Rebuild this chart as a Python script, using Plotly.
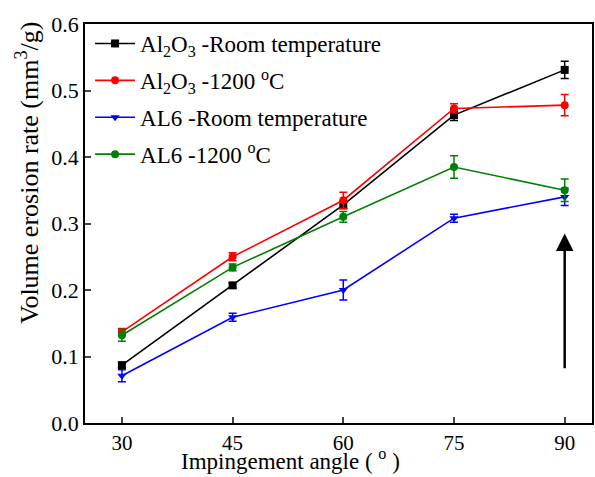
import plotly.graph_objects as go

angles = [30, 45, 60, 75, 90]
al2o3_rt = [0.087, 0.207, 0.328, 0.463, 0.531]
al2o3_rt_err = [0.004, 0.004, 0.006, 0.008, 0.013]
al2o3_1200 = [0.137, 0.250, 0.335, 0.473, 0.478]
al2o3_1200_err = [0.005, 0.006, 0.012, 0.007, 0.016]
al6_rt = [0.071, 0.159, 0.200, 0.308, 0.340]
al6_rt_err = [0.009, 0.006, 0.015, 0.006, 0.013]
al6_1200 = [0.132, 0.234, 0.310, 0.385, 0.350]
al6_1200_err = [0.009, 0.005, 0.008, 0.017, 0.017]

names = ["Al<sub>2</sub>O<sub>3</sub> -Room temperature",
         "Al<sub>2</sub>O<sub>3</sub> -1200 <sup>o</sup>C",
         "AL6 -Room temperature",
         "AL6 -1200 <sup>o</sup>C"]
series = [al2o3_rt, al2o3_1200, al6_rt, al6_1200]
errs = [al2o3_rt_err, al2o3_1200_err, al6_rt_err, al6_1200_err]
colors = ["#000000", "#ff0000", "#0000ff", "#008000"]
symbols = ["square", "circle", "triangle-down", "circle"]

arrow_x = 90
arrow_tail = 0.08
arrow_head = 0.285

fig = go.Figure()
for i, (n, s, e, c, sym) in enumerate(zip(names, series, errs, colors, symbols)):
    fig.add_trace(go.Scatter(
        x=angles, y=s, name=n, mode="lines+markers", legendgroup=f"g{i}",
        line=dict(color=c, width=1.6),
        marker=dict(symbol=sym, size=8, color=c),
        error_y=dict(type="data", array=e, visible=True, color=c, thickness=1.5, width=4),
    ))

fig.add_annotation(x=arrow_x, y=arrow_head, ax=arrow_x, ay=arrow_tail,
                   xref="x", yref="y", axref="x", ayref="y",
                   showarrow=True, arrowhead=2, arrowsize=1.4, arrowwidth=2.5,
                   arrowcolor="black", text="")

font = "Liberation Serif, Times New Roman, serif"
fig.add_annotation(x=0.405, y=-0.133, xref="paper", yref="paper",
                   xanchor="center", yanchor="bottom",
                   text="Impingement angle ( <sup>o</sup> )", showarrow=False,
                   font=dict(family=font, size=23, color="black"))
fig.add_annotation(x=-0.112, y=0.627, xref="paper", yref="paper",
                   xanchor="center", yanchor="middle", textangle=-90,
                   text="Volume erosion rate (mm<sup>3</sup>/g)", showarrow=False,
                   font=dict(family=font, size=26, color="black"))

fig.update_layout(
    width=595, height=477,
    margin=dict(l=85, r=1, t=24, b=54),
    paper_bgcolor="white", plot_bgcolor="white",
    font=dict(family=font, size=21, color="black"),
    showlegend=True,
    legend=dict(x=0.01, y=1.005, xanchor="left", yanchor="top",
                bgcolor="rgba(0,0,0,0)", font=dict(size=23, family=font),
                tracegroupgap=4, itemwidth=40),
    xaxis=dict(range=[25, 93.7], tickvals=angles, ticks="inside", ticklen=6,
               tickwidth=1.5, showline=True, linecolor="black", linewidth=1.5,
               mirror=True, showgrid=False, zeroline=False,
               tickfont=dict(size=21)),
    yaxis=dict(range=[0, 0.6], dtick=0.1, tickformat=".1f", ticks="inside", ticklen=6,
               tickwidth=1.5, showline=True, linecolor="black", linewidth=1.5,
               mirror=True, showgrid=False, zeroline=False,
               tickfont=dict(size=22)),
)

fig.write_html("out.html")
